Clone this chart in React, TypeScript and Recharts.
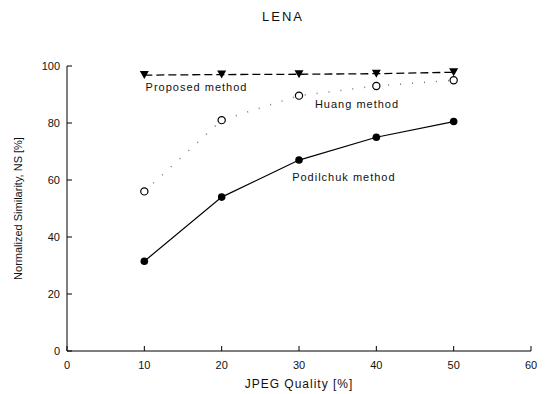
import React from "react"
import { LineChart, Line, XAxis, YAxis, ReferenceDot } from "recharts"

// JPEG quality levels (%)
const quality = [10, 20, 30, 40, 50]

// normalized similarity NS (%)
const proposed = [96.8, 97.0, 97.1, 97.3, 97.8]
const huang = [56, 81, 89.6, 93, 95]
const podilchuk = [31.5, 54, 67, 75, 80.5]

const xTicks = [0, 10, 20, 30, 40, 50, 60]
const yTicks = [0, 20, 40, 60, 80, 100]

const data = quality.map((q, i) => ({
  q,
  proposed: proposed[i],
  huang: huang[i],
  podilchuk: podilchuk[i],
}))

const FONT = "'Liberation Sans', Arial, sans-serif"

const TriangleDot = (props: any) => {
  const { cx, cy } = props
  if (cx == null || cy == null) return null
  return <path d={`M${cx - 4.5},${cy - 4} L${cx + 4.5},${cy - 4} L${cx},${cy + 4} Z`} fill="#000" />
}

const OpenDot = (props: any) => {
  const { cx, cy } = props
  if (cx == null || cy == null) return null
  return <circle cx={cx} cy={cy} r={3.6} fill="#fff" stroke="#000" strokeWidth={1.2} />
}

const FilledDot = (props: any) => {
  const { cx, cy } = props
  if (cx == null || cy == null) return null
  return <circle cx={cx} cy={cy} r={3.8} fill="#000" />
}

const noteStyle = { fontFamily: FONT, fontSize: 11, letterSpacing: 1, fill: "#111" }

export default function App() {
  return (
    <div style={{ position: "absolute", left: 0, top: 0, width: 550, height: 394, background: "#fff", fontFamily: FONT }}>
      <div style={{ position: "absolute", left: 0, width: 566, top: 9, textAlign: "center", fontSize: 13, letterSpacing: 2, color: "#111" }}>
        LENA
      </div>
      <LineChart width={550} height={394} data={data} margin={{ top: 66, right: 19, left: 0, bottom: 0 }}>
        <XAxis
          dataKey="q"
          type="number"
          domain={[0, 60]}
          ticks={xTicks}
          interval={0}
          height={43}
          tickSize={-5}
          tickMargin={15}
          axisLine={{ stroke: "#000" }}
          tickLine={{ stroke: "#000" }}
          tick={{ fill: "#111", fontSize: 11, fontFamily: FONT }}
          label={{ value: "JPEG Quality [%]", position: "insideBottom", offset: 6, fill: "#111", fontSize: 12, fontFamily: FONT, letterSpacing: 1 } as any}
        />
        <XAxis xAxisId="top" orientation="top" dataKey="q" type="number" domain={[0, 60]} height={0} tick={false} tickLine={false} axisLine={{ stroke: "#000" }} />
        <YAxis
          type="number"
          domain={[0, 100]}
          ticks={yTicks}
          interval={0}
          width={67}
          tickSize={-5}
          tickMargin={12}
          axisLine={{ stroke: "#000" }}
          tickLine={{ stroke: "#000" }}
          tick={{ fill: "#111", fontSize: 11, fontFamily: FONT }}
          label={{ value: "Normalized Similarity, NS [%]", angle: -90, position: "insideLeft", offset: 18, style: { textAnchor: "middle" }, fill: "#111", fontSize: 11, fontFamily: FONT } as any}
        />
        <YAxis yAxisId="right" orientation="right" domain={[0, 100]} width={0} tick={false} tickLine={false} axisLine={{ stroke: "#000" }} />
        <Line
          dataKey="huang"
          stroke="#777"
          strokeWidth={1.5}
          strokeDasharray="1 11"
          dot={<OpenDot />}
          isAnimationActive={false}
        />
        <Line
          dataKey="podilchuk"
          stroke="#000"
          strokeWidth={1.2}
          dot={<FilledDot />}
          isAnimationActive={false}
        />
        <Line
          dataKey="proposed"
          stroke="#000"
          strokeWidth={1.3}
          strokeDasharray="8 4"
          dot={<TriangleDot />}
          isAnimationActive={false}
        />
        <ReferenceDot x={16.75} y={92.6} r={0} label={{ value: "Proposed method", position: "center", ...noteStyle } as any} />
        <ReferenceDot x={37.5} y={86.7} r={0} label={{ value: "Huang method", position: "center", ...noteStyle } as any} />
        <ReferenceDot x={35.8} y={61} r={0} label={{ value: "Podilchuk method", position: "center", ...noteStyle } as any} />
      </LineChart>
    </div>
  )
}
